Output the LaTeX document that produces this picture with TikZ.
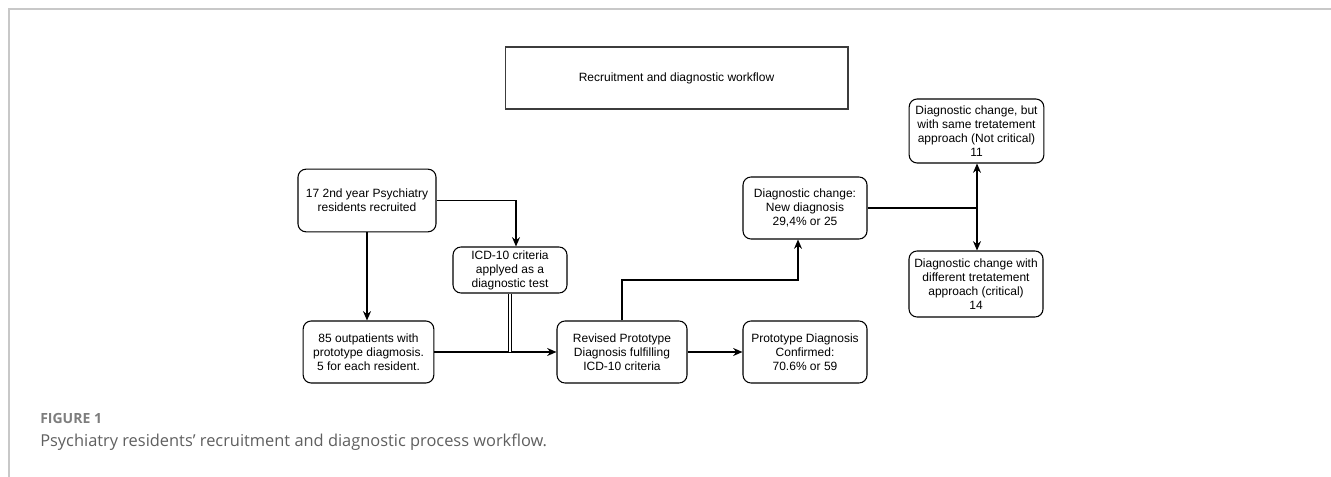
\documentclass[tikz,border=0pt]{standalone}
\usepackage{fontspec}
\setmainfont{Liberation Sans}
\newfontfamily\capfont{Open Sans}
\usetikzlibrary{arrows.meta}

\tikzset{
  caja/.style={draw=black, rounded corners=6pt, line width=0.8pt, align=center,
    inner sep=0pt, font=\fontsize{9}{10.5}\selectfont},
  flecha/.style={-{Stealth[length=7pt,width=6pt]}, line width=0.8pt},
  linea/.style={line width=0.8pt},
}

\begin{document}
\begin{tikzpicture}[x=0.75pt, y=-0.75pt]

\definecolor{marcog}{RGB}{200,200,200}
\definecolor{titulog}{RGB}{60,60,60}
\definecolor{figg}{RGB}{125,125,125}
\definecolor{textog}{RGB}{95,95,95}

\useasboundingbox (0,0) rectangle (1331,477);

% Marco de la figura
\draw[marcog,line width=0.9pt] (1331,9) -- (9,9) -- (9,477);

% Titulo
\node[draw=titulog, line width=1pt, minimum width=257pt, minimum height=46.5pt,
  font=\fontsize{9}{10.5}\selectfont] (titulo) at (676.5,78) {Recruitment and diagnostic workflow};

% === CAJAS ===
\node[caja, minimum width=103.5pt, minimum height=47pt] (resid) at (367,200.5)
  {17 2nd year Psychiatry\\residents recruited};
\node[caja, minimum width=85.5pt, minimum height=34.5pt] (icd) at (510,270)
  {ICD-10 criteria\\applyed as a\\diagnostic test};
\node[caja, minimum width=98pt, minimum height=46.5pt] (pacien) at (368.5,352)
  {85 outpatients with\\prototype diagmosis.\\5 for each resident.};
\node[caja, minimum width=97.5pt, minimum height=46.5pt] (revis) at (622,352)
  {Revised Prototype\\Diagnosis fulfilling\\ICD-10 criteria};
\node[caja, minimum width=93pt, minimum height=46.5pt] (confir) at (805,352)
  {Prototype Diagnosis\\Confirmed:\\70.6\% or 59};
\node[caja, minimum width=93pt, minimum height=46.5pt] (nuevo) at (805,208)
  {Diagnostic change:\\New diagnosis\\29,4\% or 25};
\node[caja, minimum width=101pt, minimum height=48pt] (nocrit) at (976.5,131)
  {Diagnostic change, but\\with same tretatement\\approach (Not critical)\\11};
\node[caja, minimum width=100.5pt, minimum height=49.5pt] (crit) at (976,284)
  {Diagnostic change with\\different tretatement\\approach (critical)\\14};

% === CONECTORES ===
\draw[flecha] (resid.east) -| ([xshift=4.5pt]icd.north);
\draw[flecha] (resid.south) -- (resid.south |- pacien.north);
\draw[flecha] (pacien.east) -- (revis.west);
\draw[linea, double, double distance=1.6pt] (icd.south) -- (icd.south |- pacien.east);
\draw[flecha] (revis.east) -- (confir.west);

\coordinate (codo) at (798,280);
\draw[flecha] (revis.north) |- (codo) -- (codo |- nuevo.south);

\coordinate (nudo) at (977,208);
\draw[linea] (nuevo.east) -- (nudo);
\draw[flecha] (nudo) -- (nudo |- nocrit.south);
\draw[flecha] (nudo) -- (nudo |- crit.north);

% === PIE DE FIGURA ===
\node[anchor=base west, inner sep=0pt, text=figg, font=\capfont\bfseries\fontsize{10.5}{12}\selectfont]
  (fig) at (40,423) {FIGURE 1};
\node[anchor=base west, inner sep=0pt, text=textog, font=\capfont\fontsize{12.3}{14}\selectfont]
  (pie) at (40,446) {Psychiatry residents’ recruitment and diagnostic process workflow.};

\end{tikzpicture}
\end{document}
